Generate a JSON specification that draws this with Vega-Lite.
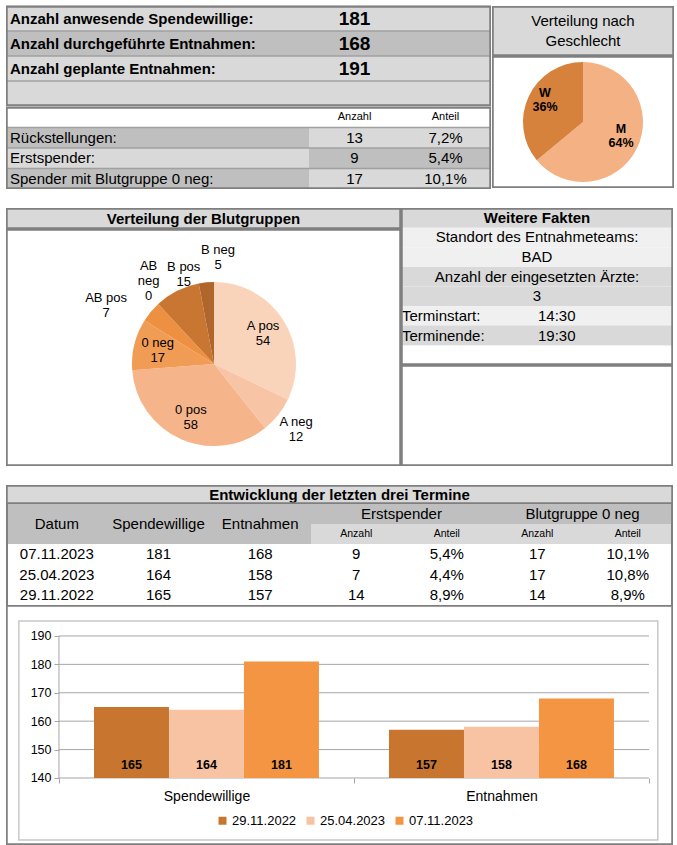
{
  "$schema": "https://vega.github.io/schema/vega-lite/v6.json",
  "background": "#ffffff",
  "padding": {"left": 5, "top": 5, "right": 5, "bottom": 0},
  "spacing": 19,
  "config": {
    "font": "Liberation Sans",
    "view": {"stroke": null},
    "text": {"color": "#000000"}
  },
  "resolve": {"scale": {"color": "independent"}, "legend": {"color": "independent"}},
  "datasets": {
    "top": [
      {"row": "r1", "label": "Anzahl anwesende Spendewillige:", "Anzahl": "181", "Anteil": ""},
      {"row": "r2", "label": "Anzahl durchgeführte Entnahmen:", "Anzahl": "168", "Anteil": ""},
      {"row": "r3", "label": "Anzahl geplante Entnahmen:", "Anzahl": "191", "Anteil": ""},
      {"row": "r4", "label": "", "Anzahl": "", "Anteil": ""},
      {"row": "r5", "label": "", "Anzahl": "Anzahl", "Anteil": "Anteil"},
      {"row": "r6", "label": "Rückstellungen:", "Anzahl": "13", "Anteil": "7,2%"},
      {"row": "r7", "label": "Erstspender:", "Anzahl": "9", "Anteil": "5,4%"},
      {"row": "r8", "label": "Spender mit Blutgruppe 0 neg:", "Anzahl": "17", "Anteil": "10,1%"}
    ],
    "hist": [
      {"Datum": "07.11.2023", "Spendewillige": 181, "Entnahmen": 168, "ErstAnzahl": 9, "ErstAnteil": "5,4%", "NegAnzahl": 17, "NegAnteil": "10,1%"},
      {"Datum": "25.04.2023", "Spendewillige": 164, "Entnahmen": 158, "ErstAnzahl": 7, "ErstAnteil": "4,4%", "NegAnzahl": 17, "NegAnteil": "10,8%"},
      {"Datum": "29.11.2022", "Spendewillige": 165, "Entnahmen": 157, "ErstAnzahl": 14, "ErstAnteil": "8,9%", "NegAnzahl": 14, "NegAnteil": "8,9%"}
    ],
    "frame": [{}]
  },
  "vconcat": [
    {
      "hconcat": [
        {
          "vconcat": [
            {
              "width": 485, "height": 100,
              "view": {"fill": "#d9d9d9"},
              "data": {"name": "top"},
              "transform": [{"filter": {"field": "row", "oneOf": ["r1", "r2", "r3", "r4"]}}],
              "layer": [
                {"mark": {"type": "rect"}, "encoding": {
                  "y": {"field": "row", "type": "nominal", "axis": null, "scale": {"type": "band", "domain": ["r1", "r2", "r3", "r4"], "paddingInner": 0, "paddingOuter": 0}},
                  "fill": {"condition": {"test": "datum.row === 'r2'", "value": "#bfbfbf"}, "value": "#d9d9d9"}}},
                {"mark": {"type": "rule", "color": "#a0a0a0", "strokeWidth": 1.5}, "encoding": {"y": {"field": "row", "type": "nominal", "bandPosition": 0, "axis": null, "scale": {"type": "band", "domain": ["r1", "r2", "r3", "r4"], "paddingInner": 0, "paddingOuter": 0}}}},
                {"mark": {"type": "text", "align": "left", "dx": 4, "fontSize": 15, "fontWeight": "bold", "clip": true}, "encoding": {
                  "y": {"field": "row", "type": "nominal", "axis": null, "scale": {"type": "band", "domain": ["r1", "r2", "r3", "r4"], "paddingInner": 0, "paddingOuter": 0}},
                  "x": {"datum": 0, "type": "quantitative", "axis": null, "scale": {"domain": [0, 1]}}, "text": {"field": "label", "type": "nominal"}}},
                {"transform": [{"fold": ["Anzahl", "Anteil"]}], "mark": {"type": "text", "fontSize": 19, "fontWeight": "bold", "clip": true}, "encoding": {
                  "y": {"field": "row", "type": "nominal", "axis": null, "scale": {"type": "band", "domain": ["r1", "r2", "r3", "r4"], "paddingInner": 0, "paddingOuter": 0}},
                  "x": {"field": "key", "type": "nominal", "bandPosition": 0.5, "axis": null, "scale": {"type": "band", "domain": ["_1", "_2", "Anzahl", "Anteil"], "paddingInner": 0, "paddingOuter": 0.665, "align": 1}}, "text": {"field": "value", "type": "nominal"}}},
                {"data": {"name": "frame"}, "mark": {"type": "rect", "fill": "transparent", "stroke": "#7f7f7f", "strokeWidth": 3.5, "clip": true}, "encoding": {}}
              ],
              "resolve": {"scale": {"x": "independent"}}
            },
            {
              "width": 485, "height": 82,
              "view": {"fill": "#ffffff"},
              "data": {"name": "top"},
              "transform": [{"filter": {"field": "row", "oneOf": ["r5", "r6", "r7", "r8"]}}],
              "layer": [
                {"mark": {"type": "rect"}, "encoding": {
                  "y": {"field": "row", "type": "nominal", "axis": null, "scale": {"type": "band", "domain": ["r5", "r6", "r7", "r8"], "paddingInner": 0, "paddingOuter": 0}},
                  "fill": {"condition": [{"test": "datum.row === 'r5'", "value": "#ffffff"}, {"test": "datum.row === 'r7'", "value": "#d9d9d9"}], "value": "#bfbfbf"}}},
                {"transform": [{"fold": ["Anzahl", "Anteil"]}], "mark": {"type": "rect"}, "encoding": {
                  "y": {"field": "row", "type": "nominal", "axis": null, "scale": {"type": "band", "domain": ["r5", "r6", "r7", "r8"], "paddingInner": 0, "paddingOuter": 0}},
                  "x": {"field": "key", "type": "nominal", "axis": null, "scale": {"type": "band", "domain": ["_1", "_2", "Anzahl", "Anteil"], "paddingInner": 0, "paddingOuter": 0.665, "align": 1}},
                  "fill": {"condition": [{"test": "datum.row === 'r5'", "value": "#ffffff"}, {"test": "datum.row === 'r7'", "value": "#bfbfbf"}], "value": "#d9d9d9"}}},
                {"mark": {"type": "rule", "color": "#a0a0a0", "strokeWidth": 1.5}, "encoding": {"y": {"field": "row", "type": "nominal", "bandPosition": 0, "axis": null, "scale": {"type": "band", "domain": ["r5", "r6", "r7", "r8"], "paddingInner": 0, "paddingOuter": 0}}}},
                {"mark": {"type": "text", "align": "left", "dx": 4, "fontSize": 15, "clip": true}, "encoding": {
                  "y": {"field": "row", "type": "nominal", "axis": null, "scale": {"type": "band", "domain": ["r5", "r6", "r7", "r8"], "paddingInner": 0, "paddingOuter": 0}},
                  "x": {"datum": 0, "type": "quantitative", "axis": null, "scale": {"domain": [0, 1]}}, "text": {"field": "label", "type": "nominal"}}},
                {"transform": [{"fold": ["Anzahl", "Anteil"]}, {"filter": "datum.row !== 'r5'"}], "mark": {"type": "text", "fontSize": 15, "clip": true}, "encoding": {
                  "y": {"field": "row", "type": "nominal", "axis": null, "scale": {"type": "band", "domain": ["r5", "r6", "r7", "r8"], "paddingInner": 0, "paddingOuter": 0}},
                  "x": {"field": "key", "type": "nominal", "bandPosition": 0.5, "axis": null, "scale": {"type": "band", "domain": ["_1", "_2", "Anzahl", "Anteil"], "paddingInner": 0, "paddingOuter": 0.665, "align": 1}}, "text": {"field": "value", "type": "nominal"}}},
                {"transform": [{"fold": ["Anzahl", "Anteil"]}, {"filter": "datum.row === 'r5'"}], "mark": {"type": "text", "fontSize": 11, "clip": true}, "encoding": {
                  "y": {"field": "row", "type": "nominal", "axis": null, "scale": {"type": "band", "domain": ["r5", "r6", "r7", "r8"], "paddingInner": 0, "paddingOuter": 0}},
                  "x": {"field": "key", "type": "nominal", "bandPosition": 0.5, "axis": null, "scale": {"type": "band", "domain": ["_1", "_2", "Anzahl", "Anteil"], "paddingInner": 0, "paddingOuter": 0.665, "align": 1}}, "text": {"field": "value", "type": "nominal"}}},
                {"data": {"name": "frame"}, "mark": {"type": "rect", "fill": "transparent", "stroke": "#7f7f7f", "strokeWidth": 3.5, "clip": true}, "encoding": {}}
              ],
              "resolve": {"scale": {"x": "independent"}}
            }
          ],
          "spacing": 0
        },
        {
          "vconcat": [
            {
              "width": 182, "height": 50,
              "view": {"fill": "#d9d9d9"},
              "layer": [
                {"data": {"values": [{"t": "Verteilung nach\nGeschlecht"}]}, "mark": {"type": "text", "fontSize": 15, "lineBreak": "\n", "lineHeight": 20, "dy": -10, "clip": true}, "encoding": {"text": {"field": "t", "type": "nominal"}}},
                {"data": {"name": "frame"}, "mark": {"type": "rect", "fill": "transparent", "stroke": "#7f7f7f", "strokeWidth": 3.5, "clip": true}, "encoding": {}}
              ]
            },
            {
              "width": 182, "height": 132,
              "view": {"fill": "#ffffff"},
              "layer": [
                {
                  "data": {"values": [
                    {"g": "M", "pct": 64, "label": "M\n64%"},
                    {"g": "W", "pct": 36, "label": "W\n36%"}
                  ]},
                  "encoding": {
                    "theta": {"field": "pct", "type": "quantitative", "stack": true},
                    "order": {"field": "pct", "type": "quantitative", "sort": "descending"},
                    "color": {"field": "g", "type": "nominal", "legend": null, "scale": {"domain": ["M", "W"], "range": ["#f4b183", "#d6823c"]}}
                  },
                  "layer": [
                    {"mark": {"type": "arc", "outerRadius": 60}},
                    {"mark": {"type": "text", "radius": 42, "dy": -11, "fontSize": 12.5, "fontWeight": "bold", "lineBreak": "\n", "lineHeight": 14, "clip": true}, "encoding": {"text": {"field": "label", "type": "nominal"}, "color": {"value": "#000000"}}}
                  ]
                },
                {"data": {"name": "frame"}, "mark": {"type": "rect", "fill": "transparent", "stroke": "#7f7f7f", "strokeWidth": 3.5, "clip": true}, "encoding": {}}
              ]
            }
          ],
          "spacing": 0
        }
      ],
      "spacing": 0
    },
    {
      "hconcat": [
        {
          "vconcat": [
            {
              "width": 395, "height": 21,
              "view": {"fill": "#d9d9d9"},
              "layer": [
                {"data": {"values": [{"t": "Verteilung der Blutgruppen"}]}, "mark": {"type": "text", "fontSize": 15, "fontWeight": "bold", "clip": true}, "encoding": {"text": {"field": "t", "type": "nominal"}}},
                {"data": {"name": "frame"}, "mark": {"type": "rect", "fill": "transparent", "stroke": "#7f7f7f", "strokeWidth": 3.5, "clip": true}, "encoding": {}}
              ]
            },
            {
              "width": 395, "height": 237,
              "view": {"fill": "#ffffff"},
              "layer": [
                {
                  "data": {"values": [
                    {"bg": "A pos", "n": 54, "i": 1, "label": "A pos\n54"},
                    {"bg": "A neg", "n": 12, "i": 2, "label": "A neg\n12"},
                    {"bg": "0 pos", "n": 58, "i": 3, "label": "0 pos\n58"},
                    {"bg": "0 neg", "n": 17, "i": 4, "label": "0 neg\n17"},
                    {"bg": "AB pos", "n": 7, "i": 5, "label": "AB pos\n7"},
                    {"bg": "AB neg", "n": 0, "i": 6, "label": "AB\nneg\n0"},
                    {"bg": "B pos", "n": 15, "i": 7, "label": "B pos\n15"},
                    {"bg": "B neg", "n": 5, "i": 8, "label": "B neg\n5"}
                  ]},
                  "encoding": {
                    "theta": {"field": "n", "type": "quantitative", "stack": true},
                    "order": {"field": "i", "type": "quantitative"},
                    "x": {"datum": "pie", "type": "nominal", "bandPosition": 0.5, "axis": null, "scale": {"type": "band", "domain": ["pie"], "paddingInner": 0, "paddingOuter": 0.05, "align": 0.792}},
                    "y": {"datum": "pie", "type": "nominal", "bandPosition": 0.5, "axis": null, "scale": {"type": "band", "domain": ["pie"], "paddingInner": 0, "paddingOuter": 0.1, "align": 0.918}}
                  },
                  "layer": [
                    {"mark": {"type": "arc", "outerRadius": 82, "clip": true}, "encoding": {"color": {"field": "bg", "type": "nominal", "legend": null, "scale": {"domain": ["A pos", "A neg", "0 pos", "0 neg", "AB pos", "AB neg", "B pos", "B neg"], "range": ["#f9d4bb", "#f7c5a5", "#f5b48a", "#f19c54", "#ee9042", "#e07f35", "#c87632", "#b0662b"]}}}},
                    {"mark": {"type": "text", "radius": 58, "dy": -7.5, "fontSize": 13, "lineBreak": "\n", "lineHeight": 15, "clip": true}, "encoding": {"text": {"condition": {"test": "indexof(['A pos','0 pos','0 neg'], datum.bg) >= 0", "field": "label"}, "value": ""}}},
                    {"mark": {"type": "text", "radius": 105, "dy": -7.5, "fontSize": 13, "lineBreak": "\n", "lineHeight": 15, "clip": true}, "encoding": {"text": {"condition": {"test": "datum.bg === 'A neg'", "field": "label"}, "value": ""}}},
                    {"mark": {"type": "text", "radius": 105, "dx": 6, "dy": -21, "fontSize": 13, "lineBreak": "\n", "lineHeight": 15, "clip": true}, "encoding": {"text": {"condition": {"test": "datum.bg === 'AB neg'", "field": "label"}, "value": ""}}},
                    {"mark": {"type": "text", "radius": 96, "dx": 13, "dy": -11.5, "fontSize": 13, "lineBreak": "\n", "lineHeight": 15, "clip": true}, "encoding": {"text": {"condition": {"test": "datum.bg === 'B pos'", "field": "label"}, "value": ""}}},
                    {"mark": {"type": "text", "radius": 107, "dx": 14, "dy": -7.5, "fontSize": 13, "lineBreak": "\n", "lineHeight": 15, "clip": true}, "encoding": {"text": {"condition": {"test": "datum.bg === 'B neg'", "field": "label"}, "value": ""}}},
                    {"mark": {"type": "text", "radius": 118, "dx": -17, "dy": 9.5, "fontSize": 13, "lineBreak": "\n", "lineHeight": 15, "clip": true}, "encoding": {"text": {"condition": {"test": "datum.bg === 'AB pos'", "field": "label"}, "value": ""}}}
                  ]
                },
                {"data": {"name": "frame"}, "mark": {"type": "rect", "fill": "transparent", "stroke": "#7f7f7f", "strokeWidth": 3.5, "clip": true}, "encoding": {}}
              ]
            }
          ],
          "spacing": 0
        },
        {
          "vconcat": [
            {
              "width": 272, "height": 157,
              "view": {"fill": "#ffffff"},
              "layer": [
                {
                  "data": {"values": [
                    {"row": "f0", "col": "span", "text": "Weitere Fakten"},
                    {"row": "f1", "col": "span", "text": "Standort des Entnahmeteams:"},
                    {"row": "f2", "col": "span", "text": "BAD"},
                    {"row": "f3", "col": "span", "text": "Anzahl der eingesetzten Ärzte:"},
                    {"row": "f4", "col": "span", "text": "3"},
                    {"row": "f5", "col": "label", "text": "Terminstart:"},
                    {"row": "f5", "col": "value", "text": "14:30"},
                    {"row": "f6", "col": "label", "text": "Terminende:"},
                    {"row": "f6", "col": "value", "text": "19:30"},
                    {"row": "f7", "col": "span", "text": ""}
                  ]},
                  "encoding": {"y": {"field": "row", "type": "nominal", "axis": null, "scale": {"type": "band", "domain": ["f0", "f1", "f2", "f3", "f4", "f5", "f6", "f7"], "paddingInner": 0, "paddingOuter": 0}}},
                  "layer": [
                    {"mark": {"type": "rect"}, "encoding": {"fill": {"condition": [{"test": "indexof(['f1','f2','f5'], datum.row) >= 0", "value": "#f0f0f0"}, {"test": "datum.row === 'f7'", "value": "#ffffff"}], "value": "#d9d9d9"}}},
                    {"transform": [{"filter": "datum.row === 'f0'"}], "mark": {"type": "text", "fontSize": 15, "fontWeight": "bold", "clip": true}, "encoding": {"text": {"field": "text", "type": "nominal"}}},
                    {"transform": [{"filter": "datum.row !== 'f0' && datum.col === 'span'"}], "mark": {"type": "text", "fontSize": 15, "clip": true}, "encoding": {"text": {"field": "text", "type": "nominal"}}},
                    {"transform": [{"filter": "datum.col !== 'span'"}], "mark": {"type": "text", "fontSize": 15, "align": "left", "dx": 1, "clip": true}, "encoding": {"x": {"field": "col", "type": "nominal", "bandPosition": 0, "axis": null, "scale": {"type": "band", "domain": ["label", "value"], "paddingInner": 0, "paddingOuter": 0}}, "text": {"field": "text", "type": "nominal"}}}
                  ]
                },
                {"data": {"name": "frame"}, "mark": {"type": "rect", "fill": "transparent", "stroke": "#7f7f7f", "strokeWidth": 3.5, "clip": true}, "encoding": {}}
              ]
            },
            {
              "width": 272, "height": 101,
              "view": {"fill": "#ffffff"},
              "data": {"name": "frame"},
              "mark": {"type": "rect", "fill": "transparent", "stroke": "#7f7f7f", "strokeWidth": 3.5, "clip": true},
              "encoding": {}
            }
          ],
          "spacing": 0
        }
      ],
      "spacing": 0
    },
    {
      "vconcat": [
        {
          "width": 667, "height": 19,
          "view": {"fill": "#d9d9d9"},
          "layer": [
            {"data": {"values": [{"t": "Entwicklung der letzten drei Termine"}]}, "mark": {"type": "text", "fontSize": 15, "fontWeight": "bold", "clip": true}, "encoding": {"text": {"field": "t", "type": "nominal"}}},
            {"data": {"name": "frame"}, "mark": {"type": "rect", "fill": "transparent", "stroke": "#7f7f7f", "strokeWidth": 3.5, "clip": true}, "encoding": {}}
          ]
        },
        {
          "hconcat": [
            {
              "width": 305, "height": 40,
              "view": {"fill": "#bfbfbf"},
              "data": {"values": [{"col": "Datum"}, {"col": "Spendewillige"}, {"col": "Entnahmen"}]},
              "layer": [
                {"mark": {"type": "text", "fontSize": 15, "clip": true}, "encoding": {"x": {"field": "col", "type": "nominal", "bandPosition": 0.5, "axis": null, "scale": {"type": "band", "domain": ["Datum", "Spendewillige", "Entnahmen"], "paddingInner": 0, "paddingOuter": 0}}, "text": {"field": "col", "type": "nominal"}}},
                {"mark": {"type": "rule", "color": "#7f7f7f", "strokeWidth": 3.5, "clip": true}, "encoding": {"x": {"datum": "Datum", "type": "nominal", "bandPosition": 0, "axis": null, "scale": {"type": "band", "domain": ["Datum", "Spendewillige", "Entnahmen"], "paddingInner": 0, "paddingOuter": 0}}}}
              ]
            },
            {
              "vconcat": [
                {
                  "width": 362, "height": 20,
                  "view": {"fill": "#bfbfbf"},
                  "data": {"values": [{"g": "Erstspender"}, {"g": "Blutgruppe 0 neg"}]},
                  "layer": [
                    {"mark": {"type": "text", "fontSize": 15, "clip": true}, "encoding": {"x": {"field": "g", "type": "nominal", "bandPosition": 0.5, "axis": null, "scale": {"type": "band", "domain": ["Erstspender", "Blutgruppe 0 neg"], "paddingInner": 0, "paddingOuter": 0}}, "text": {"field": "g", "type": "nominal"}}},
                    {"mark": {"type": "rule", "color": "#7f7f7f", "strokeWidth": 3.5, "clip": true}, "encoding": {"x": {"datum": "Blutgruppe 0 neg", "type": "nominal", "bandPosition": 1, "axis": null, "scale": {"type": "band", "domain": ["Erstspender", "Blutgruppe 0 neg"], "paddingInner": 0, "paddingOuter": 0}}}}
                  ]
                },
                {
                  "width": 362, "height": 20,
                  "view": {"fill": "#d9d9d9"},
                  "data": {"values": [{"c": "EA", "t": "Anzahl"}, {"c": "EP", "t": "Anteil"}, {"c": "BA", "t": "Anzahl"}, {"c": "BP", "t": "Anteil"}]},
                  "layer": [
                    {"mark": {"type": "text", "fontSize": 10.5, "clip": true}, "encoding": {"x": {"field": "c", "type": "nominal", "bandPosition": 0.5, "axis": null, "scale": {"type": "band", "domain": ["EA", "EP", "BA", "BP"], "paddingInner": 0, "paddingOuter": 0}}, "text": {"field": "t", "type": "nominal"}}},
                    {"mark": {"type": "rule", "color": "#7f7f7f", "strokeWidth": 3.5, "clip": true}, "encoding": {"x": {"datum": "BP", "type": "nominal", "bandPosition": 1, "axis": null, "scale": {"type": "band", "domain": ["EA", "EP", "BA", "BP"], "paddingInner": 0, "paddingOuter": 0}}}}
                  ]
                }
              ],
              "spacing": 0
            }
          ],
          "spacing": 0
        },
        {
          "hconcat": [
            {
              "width": 305, "height": 61,
              "view": {"fill": "#ffffff"},
              "data": {"name": "hist"},
              "transform": [{"fold": ["Datum", "Spendewillige", "Entnahmen"], "as": ["col", "val"]}],
              "layer": [
                {"mark": {"type": "text", "fontSize": 15, "clip": true}, "encoding": {
                  "x": {"field": "col", "type": "nominal", "bandPosition": 0.5, "axis": null, "scale": {"type": "band", "domain": ["Datum", "Spendewillige", "Entnahmen"], "paddingInner": 0, "paddingOuter": 0}},
                  "y": {"field": "Datum", "type": "nominal", "bandPosition": 0.5, "axis": null, "scale": {"type": "band", "domain": ["07.11.2023", "25.04.2023", "29.11.2022"], "paddingInner": 0, "paddingOuter": 0}},
                  "text": {"field": "val", "type": "nominal"}}},
                {"mark": {"type": "rule", "color": "#7f7f7f", "strokeWidth": 3.5, "clip": true}, "encoding": {"x": {"datum": "Datum", "type": "nominal", "bandPosition": 0, "axis": null, "scale": {"type": "band", "domain": ["Datum", "Spendewillige", "Entnahmen"], "paddingInner": 0, "paddingOuter": 0}}}}
              ]
            },
            {
              "width": 362, "height": 61,
              "view": {"fill": "#ffffff"},
              "data": {"name": "hist"},
              "transform": [{"fold": ["ErstAnzahl", "ErstAnteil", "NegAnzahl", "NegAnteil"], "as": ["col", "val"]}],
              "layer": [
                {"mark": {"type": "text", "fontSize": 15, "clip": true}, "encoding": {
                  "x": {"field": "col", "type": "nominal", "bandPosition": 0.5, "axis": null, "scale": {"type": "band", "domain": ["ErstAnzahl", "ErstAnteil", "NegAnzahl", "NegAnteil"], "paddingInner": 0, "paddingOuter": 0}},
                  "y": {"field": "Datum", "type": "nominal", "bandPosition": 0.5, "axis": null, "scale": {"type": "band", "domain": ["07.11.2023", "25.04.2023", "29.11.2022"], "paddingInner": 0, "paddingOuter": 0}},
                  "text": {"field": "val", "type": "nominal"}}},
                {"mark": {"type": "rule", "color": "#7f7f7f", "strokeWidth": 3.5, "clip": true}, "encoding": {"x": {"datum": "NegAnteil", "type": "nominal", "bandPosition": 1, "axis": null, "scale": {"type": "band", "domain": ["ErstAnzahl", "ErstAnteil", "NegAnzahl", "NegAnteil"], "paddingInner": 0, "paddingOuter": 0}}}}
              ]
            }
          ],
          "spacing": 0
        },
        {
          "width": 667, "height": 240,
          "view": {"fill": "#ffffff"},
          "layer": [
            {
              "data": {"values": [{"v": 140}, {"v": 150}, {"v": 160}, {"v": 170}, {"v": 180}, {"v": 190}]},
              "mark": {"type": "rule", "color": "#a6a6a6", "strokeWidth": 1},
              "encoding": {
                "y": {"field": "v", "type": "quantitative", "scale": {"domain": [116.4, 200.9], "nice": false, "zero": false},
                      "axis": {"title": null, "values": [140, 150, 160, 170, 180, 190], "offset": -53, "domain": false, "grid": false, "ticks": true, "tickSize": 5, "tickColor": "#a6a6a6", "labelFontSize": 12.5, "labelColor": "#000000", "labelPadding": 3}},
                "x": {"datum": "Spendewillige", "type": "nominal", "bandPosition": 0,
                      "scale": {"type": "band", "domain": ["Spendewillige", "Entnahmen"], "paddingInner": 0, "paddingOuter": 0.1305, "align": 0.688},
                      "axis": {"title": null, "orient": "bottom", "offset": -67, "domain": false, "ticks": true, "tickBand": "extent", "bandPosition": 0.5, "tickSize": 5, "tickColor": "#a6a6a6", "labelFontSize": 14, "labelColor": "#000000", "labelPadding": 6, "labelAngle": 0}},
                "x2": {"datum": "Entnahmen", "bandPosition": 1}
              }
            },
            {
              "data": {"name": "frame"},
              "mark": {"type": "rect", "fill": "transparent", "stroke": "#c8c8c8", "strokeWidth": 1.5},
              "encoding": {
                "x": {"datum": "Entnahmen", "type": "nominal", "bandPosition": 1.03, "scale": {"type": "band", "domain": ["Spendewillige", "Entnahmen"], "paddingInner": 0, "paddingOuter": 0.1305, "align": 0.688}, "axis": {"title": null, "bandPosition": 0.5}},
                "x2": {"datum": "Spendewillige", "bandPosition": -0.136},
                "y": {"datum": 195.3, "type": "quantitative", "scale": {"domain": [116.4, 200.9], "nice": false, "zero": false}, "axis": {"title": null}},
                "y2": {"datum": 118.2}
              }
            },
            {
              "data": {"name": "frame"},
              "mark": {"type": "rule", "color": "#a6a6a6", "strokeWidth": 1},
              "encoding": {
                "x": {"datum": "Spendewillige", "type": "nominal", "bandPosition": 0, "scale": {"type": "band", "domain": ["Spendewillige", "Entnahmen"], "paddingInner": 0, "paddingOuter": 0.1305, "align": 0.688}, "axis": {"title": null, "bandPosition": 0.5}},
                "y": {"datum": 140, "type": "quantitative", "scale": {"domain": [116.4, 200.9], "nice": false, "zero": false}, "axis": {"title": null}},
                "y2": {"datum": 190}
              }
            },
            {
              "data": {"name": "hist"},
              "transform": [{"fold": ["Spendewillige", "Entnahmen"], "as": ["cat", "val"]}],
              "mark": {"type": "bar"},
              "encoding": {
                "x": {"field": "cat", "type": "nominal", "scale": {"type": "band", "domain": ["Spendewillige", "Entnahmen"], "paddingInner": 0, "paddingOuter": 0.1305, "align": 0.688}, "axis": {"title": null, "bandPosition": 0.5}},
                "xOffset": {"field": "Datum", "type": "nominal", "scale": {"type": "band", "domain": ["29.11.2022", "25.04.2023", "07.11.2023"], "paddingInner": 0, "paddingOuter": 0.467}},
                "y": {"field": "val", "type": "quantitative", "scale": {"domain": [116.4, 200.9], "nice": false, "zero": false}, "axis": {"title": null}},
                "y2": {"datum": 140},
                "color": {"field": "Datum", "type": "nominal",
                          "scale": {"domain": ["29.11.2022", "25.04.2023", "07.11.2023"], "range": ["#c8762f", "#f8c3a3", "#f39543"]},
                          "legend": {"orient": "none", "legendX": 210, "legendY": 209, "direction": "horizontal", "title": null, "symbolType": "square", "symbolSize": 64, "symbolStrokeWidth": 0, "labelFontSize": 13, "labelColor": "#000000", "labelOffset": 3, "columnPadding": 7, "padding": 0}}
              }
            },
            {
              "data": {"name": "hist"},
              "transform": [{"fold": ["Spendewillige", "Entnahmen"], "as": ["cat", "val"]}],
              "mark": {"type": "text", "fontWeight": "bold", "fontSize": 12.5, "dy": -13},
              "encoding": {
                "x": {"field": "cat", "type": "nominal", "scale": {"type": "band", "domain": ["Spendewillige", "Entnahmen"], "paddingInner": 0, "paddingOuter": 0.1305, "align": 0.688}, "axis": {"title": null, "bandPosition": 0.5}},
                "xOffset": {"field": "Datum", "type": "nominal", "scale": {"type": "band", "domain": ["29.11.2022", "25.04.2023", "07.11.2023"], "paddingInner": 0, "paddingOuter": 0.467}},
                "y": {"datum": 140, "type": "quantitative", "scale": {"domain": [116.4, 200.9], "nice": false, "zero": false}, "axis": {"title": null}},
                "text": {"field": "val", "type": "quantitative"}
              }
            },
            {"data": {"name": "frame"}, "mark": {"type": "rect", "fill": "transparent", "stroke": "#7f7f7f", "strokeWidth": 3.5, "clip": true}, "encoding": {}}
          ]
        }
      ],
      "spacing": 0,
      "resolve": {"scale": {"color": "independent"}, "legend": {"color": "independent"}}
    }
  ]
}
